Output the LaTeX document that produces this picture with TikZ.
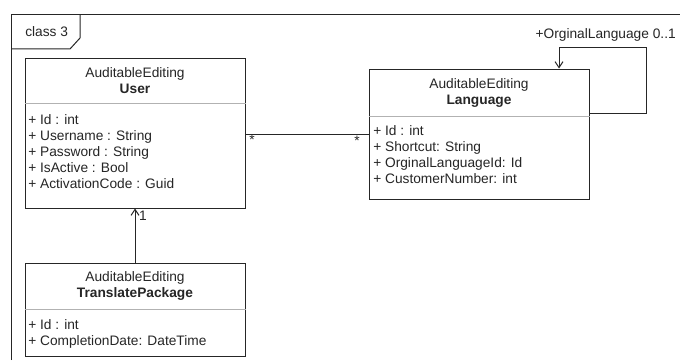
\documentclass[tikz,border=0pt]{standalone}
\usepackage{fontspec}
\setmainfont{Liberation Sans}
\usetikzlibrary{arrows.meta,fit}

\begin{document}
\begin{tikzpicture}[x=0.75pt,y=-0.75pt,
  txt/.style={inner sep=0pt, font=\fontsize{10.3}{12}\selectfont, text=black!85},
  hdr/.style={txt, anchor=base},
  hdrb/.style={txt, anchor=base, font=\fontsize{10.3}{12}\selectfont\bfseries},
  attr/.style={txt, anchor=base west},
  umlbox/.style={draw=black!85, line width=0.75pt, inner sep=0pt, fill=white},
  sepline/.style={draw=black!30, line width=0.75pt},
  frameline/.style={draw=black!85, line width=0.75pt},
  assoc/.style={draw=black!85, line width=0.75pt},
  navig/.style={assoc, -{Straight Barb[length=4.5pt,width=6pt]}}
]
\useasboundingbox (0,0) rectangle (680,360);
\fill[white] (0,0) rectangle (680,360);

% diagram frame with its name tab
\draw[frameline] (11,360) -- (11,14.5) -- (680,14.5);
\draw[frameline] (11,49) -- (70,49) -- (80,38) -- (80,14.5);
\node[attr] (frametitle) at (25,37) {class 3};

% class User
\node[umlbox, fit={(25,59)(245,208)}] (user) {};
\draw[sepline] (user.west |- 0,103) -- (user.east |- 0,103);
\node[hdr] (userstereo) at (135,77) {AuditableEditing};
\node[hdrb] (username) at (135,93) {User};
\node[attr] (u1) at (28,124) {+ Id : int};
\node[attr] (u2) at (28,140) {+ Username : String};
\node[attr] (u3) at (28,156) {+ Password : String};
\node[attr] (u4) at (28,172) {+ IsActive : Bool};
\node[attr] (u5) at (28,188) {+ ActivationCode : Guid};

% class Language
\node[umlbox, fit={(369,69)(589,199)}] (lang) {};
\draw[sepline] (lang.west |- 0,116) -- (lang.east |- 0,116);
\node[hdr] (langstereo) at (479,88) {AuditableEditing};
\node[hdrb] (langname) at (479,104) {Language};
\node[attr] (l1) at (373,135) {+ Id : int};
\node[attr] (l2) at (373,151) {+ Shortcut: String};
\node[attr] (l3) at (373,167) {+ OrginalLanguageId: Id};
\node[attr] (l4) at (373,183) {+ CustomerNumber: int};

% class TranslatePackage
\node[umlbox, fit={(25,263)(245,356)}] (tp) {};
\draw[sepline] (tp.west |- 0,309) -- (tp.east |- 0,309);
\node[hdr] (tpstereo) at (135,281) {AuditableEditing};
\node[hdrb] (tpname) at (135,297) {TranslatePackage};
\node[attr] (t1) at (28,329) {+ Id : int};
\node[attr] (t2) at (28,345) {+ CompletionDate: DateTime};

% User -- Language (many to many)
\draw[assoc] (user.east |- 0,134) -- (lang.west |- 0,134);
\node[txt] (mulu) at (252,140) {*};
\node[txt] (mull) at (357,141) {*};

% Language self reference
\draw[navig] (lang.east |- 0,113) -- (646,113) |- (559,48) -- (lang.north -| 559,0);
\node[txt, anchor=base east] (selflabel) at (676,39) {+OrginalLanguage 0..1};

% TranslatePackage -> User
\draw[navig] (tp.north) -- (user.south);
\node[txt] (mult1) at (143,216) {1};
\end{tikzpicture}
\end{document}
